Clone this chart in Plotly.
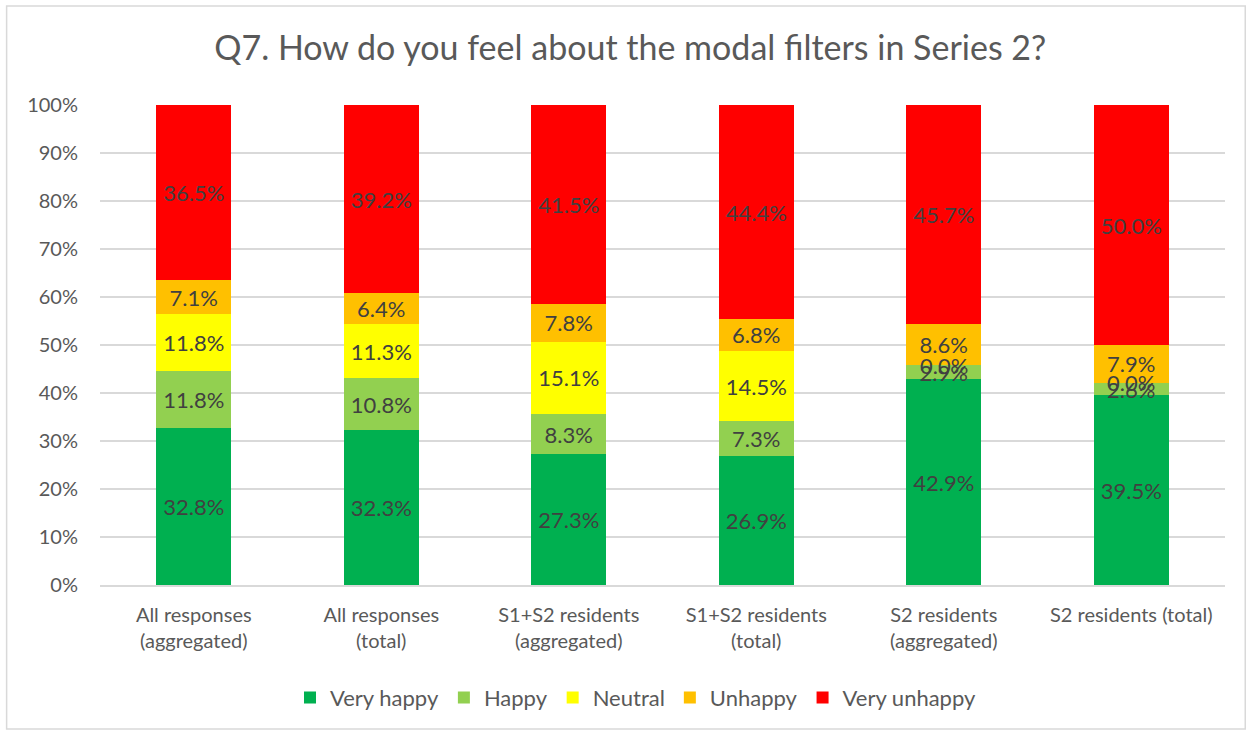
import plotly.graph_objects as go

categories = ['All responses<br>(aggregated)', 'All responses<br>(total)',
              'S1+S2 residents<br>(aggregated)', 'S1+S2 residents<br>(total)',
              'S2 residents<br>(aggregated)', 'S2 residents (total)']

very_happy = [32.8, 32.3, 27.3, 26.9, 42.9, 39.5]
happy = [11.8, 10.8, 8.3, 7.3, 2.9, 2.6]
neutral = [11.8, 11.3, 15.1, 14.5, 0.0, 0.0]
unhappy = [7.1, 6.4, 7.8, 6.8, 8.6, 7.9]
very_unhappy = [36.5, 39.2, 41.5, 44.4, 45.7, 50.0]

series = [('Very happy', very_happy, '#00b050'),
          ('Happy', happy, '#92d050'),
          ('Neutral', neutral, '#ffff00'),
          ('Unhappy', unhappy, '#ffc000'),
          ('Very unhappy', very_unhappy, '#ff0000')]

label_font = dict(size=22, color='#404040', family='Lato, sans-serif')

fig = go.Figure()
base = [0.0] * len(categories)
zero_labels = []
for name, vals, color in series:
    fig.add_trace(go.Bar(x=categories, y=[v / 100 for v in vals], name=name,
                         marker_color=color, marker_line_width=0,
                         text=[f'{v:.1f}%' for v in vals],
                         textposition='inside', insidetextanchor='middle',
                         constraintext='none', textfont=label_font))
    # zero-height segments get no inside text, so label them by hand
    for i, v in enumerate(vals):
        if v == 0:
            zero_labels.append(dict(x=categories[i], y=(base[i] + v / 2) / 100,
                                    text=f'{v:.1f}%', showarrow=False,
                                    font=label_font))
        base[i] += v

fig.update_layout(
    barmode='stack',
    bargap=0.6,
    width=1253, height=733,
    margin=dict(l=100, r=28, t=105, b=148),
    paper_bgcolor='white',
    plot_bgcolor='white',
    font=dict(family='Lato, Open Sans, sans-serif', color='#595959', size=20),
    title=dict(text='Q7. How do you feel about the modal filters in Series 2?',
               x=0.503, xanchor='center', y=0.935, yanchor='middle',
               font=dict(size=34, color='#595959')),
    legend=dict(orientation='h', x=0.476, xanchor='center', y=-0.235, yanchor='middle',
                font=dict(size=22, color='#595959'), traceorder='normal',
                itemwidth=30),
    annotations=zero_labels,
    shapes=[dict(type='rect', xref='paper', yref='paper', x0=-0.083, x1=1.018,
                 y0=-0.3, y1=1.206, line=dict(color='#d9d9d9', width=1.5))],
)
fig.update_yaxes(range=[0, 1], tickformat='.0%', dtick=0.1, showgrid=True,
                 gridcolor='#d9d9d9', gridwidth=1.5, zeroline=False,
                 tickfont=dict(size=20, color='#595959'), ticks='', ticklabelstandoff=21)
fig.update_xaxes(showline=True, linecolor='#d9d9d9', linewidth=1.5,
                 tickfont=dict(size=20, color='#595959'), ticklabelstandoff=11)

fig.write_html('out.html', config={'displayModeBar': False},
               post_script="document.body.style.margin='0';")
